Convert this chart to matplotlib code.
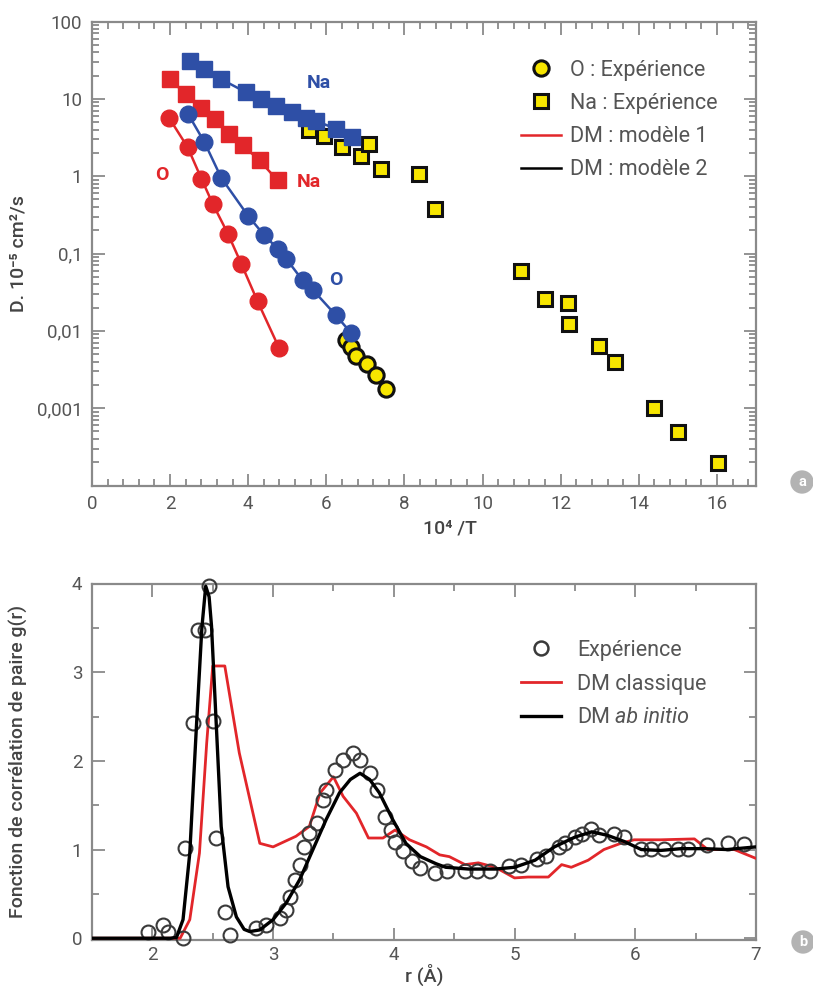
import matplotlib
matplotlib.use("Agg")
import matplotlib.pyplot as plt
from matplotlib.lines import Line2D
from matplotlib.ticker import FixedLocator, MultipleLocator, LogLocator, NullFormatter, FixedFormatter

plt.rcParams['font.family'] = ['Roboto', 'DejaVu Sans']

# ---------------- Panel a data ----------------
blue_sq_x = [2.50, 2.88, 3.31, 3.95, 4.33, 4.71, 5.13, 5.48, 5.73, 6.24, 6.66]
blue_sq_y = [30.8, 24.1, 17.9, 12.1, 9.9, 8.1, 6.7, 5.7, 5.2, 4.1, 3.2]

red_sq_x = [1.99, 2.41, 2.80, 3.14, 3.52, 3.86, 4.29, 4.75]
red_sq_y = [17.9, 11.5, 7.7, 5.5, 3.5, 2.5, 1.6, 0.88]

red_ci_x = [1.97, 2.45, 2.80, 3.09, 3.48, 3.82, 4.24, 4.79]
red_ci_y = [5.7, 2.36, 0.93, 0.44, 0.18, 0.074, 0.024, 0.006]

blue_ci_x = [2.46, 2.88, 3.31, 3.99, 4.41, 4.75, 4.97, 5.39, 5.65, 6.24, 6.63]
blue_ci_y = [6.36, 2.74, 0.95, 0.31, 0.172, 0.116, 0.086, 0.045, 0.034, 0.016, 0.0094]

yel_ci_x = [6.50, 6.63, 6.75, 7.05, 7.26, 7.52]
yel_ci_y = [0.0077, 0.0061, 0.0047, 0.0037, 0.0027, 0.00175]

yel_sq_x = [5.55, 5.94, 6.41, 6.88, 7.09, 7.39, 8.37, 8.78, 10.99, 11.59, 12.18,
            12.21, 12.98, 13.40, 14.39, 15.0, 16.02]
yel_sq_y = [3.9, 3.34, 2.36, 1.85, 2.61, 1.24, 1.07, 0.38, 0.060, 0.0258, 0.0232,
            0.0122, 0.0063, 0.0039, 0.00101, 0.00049, 0.000195]

a_yticks = [1e-3, 1e-2, 1e-1, 1, 10, 100]
a_yticklabels = ['0,001', '0,01', '0,1', '1', '10', '100']
a_xticks = [0, 2, 4, 6, 8, 10, 12, 14, 16]
a_xticklabels = ['0', '2', '4', '6', '8', '10', '12', '14', '16']

# ---------------- Panel b data ----------------
black_r = [1.5, 2.15, 2.2, 2.254, 2.31, 2.365, 2.41, 2.442, 2.47, 2.49, 2.53, 2.57,
           2.627, 2.696, 2.76, 2.807, 2.89, 3.0, 3.11, 3.22, 3.33, 3.44, 3.55, 3.64,
           3.72, 3.80, 3.88, 3.99, 4.10, 4.22, 4.35, 4.43, 4.62, 4.84, 5.0, 5.17,
           5.33, 5.50, 5.64, 5.77, 5.91, 6.05, 6.21, 6.38, 6.57, 6.76, 7.0]
black_g = [0, 0, 0.01, 0.21, 0.96, 2.39, 3.5, 3.97, 3.85, 3.52, 2.39, 1.26,
           0.58, 0.24, 0.10, 0.075, 0.094, 0.21, 0.40, 0.66, 1.0, 1.34, 1.64, 1.79,
           1.86, 1.79, 1.64, 1.34, 1.07, 0.92, 0.84, 0.80, 0.78, 0.78, 0.80, 0.88,
           1.03, 1.14, 1.20, 1.16, 1.09, 1.00, 0.99, 1.01, 1.01, 1.00, 1.03]

red_r = [1.5, 2.23, 2.31, 2.39, 2.45, 2.50, 2.6, 2.72, 2.89, 3.0, 3.19, 3.30, 3.39,
         3.50, 3.58, 3.69, 3.79, 3.91, 4.01, 4.13, 4.27, 4.38, 4.46, 4.59, 4.70,
         4.84, 5.0, 5.11, 5.28, 5.39, 5.47, 5.61, 5.74, 5.88, 5.99, 6.21, 6.49,
         6.60, 6.82, 7.0]
red_g = [0, 0, 0.21, 0.96, 2.2, 3.07, 3.07, 2.09, 1.07, 1.03, 1.15, 1.26, 1.64,
         1.82, 1.60, 1.41, 1.13, 1.13, 1.22, 1.11, 1.03, 0.94, 0.92, 0.83, 0.85,
         0.80, 0.68, 0.69, 0.69, 0.83, 0.80, 0.88, 1.00, 1.07, 1.11, 1.11, 1.12,
         1.00, 1.00, 0.90]

exp_r = [1.96, 2.09, 2.13, 2.25, 2.27, 2.34, 2.38, 2.44, 2.47, 2.50, 2.53, 2.60, 2.64,
         2.86, 2.94, 3.06, 3.11, 3.14, 3.18, 3.22, 3.26, 3.30, 3.36, 3.41, 3.44, 3.51,
         3.58, 3.66, 3.72, 3.80, 3.86, 3.93, 3.98, 4.01, 4.08, 4.15, 4.22, 4.34, 4.44,
         4.59, 4.69, 4.80, 4.95, 5.05, 5.19, 5.26, 5.37, 5.42, 5.50, 5.56, 5.63, 5.70,
         5.82, 5.91, 6.05, 6.13, 6.24, 6.35, 6.44, 6.59, 6.77, 6.90]
exp_g = [0.075, 0.15, 0.075, 0.0, 1.02, 2.43, 3.48, 3.48, 3.97, 2.45, 1.13, 0.30, 0.04,
         0.11, 0.15, 0.23, 0.32, 0.47, 0.66, 0.83, 1.03, 1.19, 1.30, 1.56, 1.67, 1.90,
         2.01, 2.09, 2.01, 1.86, 1.67, 1.37, 1.22, 1.09, 0.98, 0.87, 0.79, 0.73, 0.76,
         0.76, 0.76, 0.76, 0.82, 0.83, 0.89, 0.93, 1.03, 1.07, 1.14, 1.18, 1.23, 1.16,
         1.18, 1.14, 1.01, 1.01, 1.01, 1.01, 1.01, 1.05, 1.07, 1.06]

# ---------------- style ----------------
RED = '#e2262a'
BLUE = '#2e4fa6'
YEL = '#f7e600'
FRAME = '#8a8a8a'
TXT = '#555555'
LAB = '#444444'
TICKFS = 13.5
LEGFS = 15.5
LABFS = 14

W, H = 813, 986
fig = plt.figure(figsize=(W / 100, H / 100), dpi=100)


def ax_rect(x0, y0, x1, y1):
    return [x0 / W, 1 - y1 / H, (x1 - x0) / W, (y1 - y0) / H]


def style_axes(ax):
    for s in ax.spines.values():
        s.set_color(FRAME)
        s.set_linewidth(1.6)
    ax.tick_params(which='both', direction='in', top=True, right=True,
                   color=FRAME, labelcolor=TXT, labelsize=TICKFS, width=1.3)
    ax.tick_params(which='major', length=9, pad=7)
    ax.tick_params(which='minor', length=5)


# ---------------- Panel a ----------------
ax1 = fig.add_axes(ax_rect(92, 21.5, 756, 485.5))
style_axes(ax1)
ax1.set_yscale('log')
ax1.set_xlim(0, 17)
ax1.set_ylim(1e-4, 100)

ax1.plot(yel_sq_x, yel_sq_y, ls='none', marker='s', ms=10.5, mfc=YEL, mec='#111111',
         mew=2.2, zorder=3)
ax1.plot(yel_ci_x, yel_ci_y, ls='none', marker='o', ms=11, mfc=YEL, mec='#111111',
         mew=2.2, zorder=3)
ax1.plot(red_sq_x, red_sq_y, color=RED, lw=1.8, marker='s', ms=11, mfc=RED, mec=RED,
         zorder=4)
ax1.plot(red_ci_x, red_ci_y, color=RED, lw=1.8, marker='o', ms=12, mfc=RED, mec=RED,
         zorder=4)
ax1.plot(blue_sq_x, blue_sq_y, color=BLUE, lw=1.8, marker='s', ms=11, mfc=BLUE, mec=BLUE,
         zorder=5)
ax1.plot(blue_ci_x, blue_ci_y, color=BLUE, lw=1.8, marker='o', ms=12, mfc=BLUE, mec=BLUE,
         zorder=5)

ax1.text(5.8, 16.0, 'Na', color=BLUE, fontsize=14, fontweight='bold', ha='center', va='center')
ax1.text(5.55, 0.84, 'Na', color=RED, fontsize=14, fontweight='bold', ha='center', va='center')
ax1.text(1.8, 1.05, 'O', color=RED, fontsize=14, fontweight='bold', ha='center', va='center')
ax1.text(6.25, 0.046, 'O', color=BLUE, fontsize=14, fontweight='bold', ha='center', va='center')

ax1.xaxis.set_major_locator(FixedLocator(a_xticks))
ax1.xaxis.set_major_formatter(FixedFormatter(a_xticklabels))
ax1.xaxis.set_minor_locator(MultipleLocator(0.4))
ax1.yaxis.set_major_locator(FixedLocator(a_yticks))
ax1.yaxis.set_major_formatter(FixedFormatter(a_yticklabels))
ax1.yaxis.set_minor_locator(LogLocator(base=10, subs=range(2, 10), numticks=20))
ax1.yaxis.set_minor_formatter(NullFormatter())

ax1.set_xlabel('10⁴ /T', color=LAB, fontsize=LABFS, fontweight='medium')
ax1.xaxis.set_label_coords(0.539, -0.074)
ax1.set_ylabel('D. 10⁻⁵ cm²/s', color=LAB, fontsize=LABFS, fontweight='medium')
ax1.yaxis.set_label_coords(-0.097, 0.5)

h1 = [Line2D([], [], ls='none', marker='o', ms=11, mfc=YEL, mec='#111111', mew=2.2),
      Line2D([], [], ls='none', marker='s', ms=10.5, mfc=YEL, mec='#111111', mew=2.2),
      Line2D([], [], color=RED, lw=1.8),
      Line2D([], [], color='black', lw=1.8)]
l1 = ['O : Expérience', 'Na : Expérience', 'DM : modèle 1', 'DM : modèle 2']
leg1 = ax1.legend(h1, l1, loc='upper left', bbox_to_anchor=(0.646, 0.918),
                  frameon=False, fontsize=LEGFS, handlelength=1.85, handletextpad=0.45,
                  labelspacing=0.57, borderaxespad=0, borderpad=0)
for t in leg1.get_texts():
    t.set_color(TXT)

# ---------------- Panel b ----------------
ax2 = fig.add_axes(ax_rect(92, 583.5, 756, 940))
style_axes(ax2)
ax2.set_xlim(1.5, 7)
ax2.set_ylim(-0.02, 4.0)

ax2.plot(red_r, red_g, color=RED, lw=2.0, zorder=3)
ax2.plot(exp_r, exp_g, ls='none', marker='o', ms=10, mfc='none', mec='#3a3a3a',
         mew=1.5, zorder=4, clip_on=False)
ax2.plot(black_r, black_g, color='black', lw=2.4, zorder=5)

ax2.xaxis.set_major_locator(FixedLocator([2, 3, 4, 5, 6, 7]))
ax2.xaxis.set_minor_locator(MultipleLocator(0.5))
ax2.yaxis.set_major_locator(FixedLocator([0, 1, 2, 3, 4]))
ax2.yaxis.set_minor_locator(MultipleLocator(0.5))
ax2.tick_params(axis='x', which='major', pad=4)

ax2.set_xlabel('r (Å)', color=LAB, fontsize=LABFS, fontweight='medium', labelpad=0)
ax2.set_ylabel('Fonction de corrélation de paire g(r)', color=LAB, fontsize=LABFS,
               fontweight='medium')
ax2.yaxis.set_label_coords(-0.097, 0.5)

h2 = [Line2D([], [], ls='none', marker='o', ms=10, mfc='none', mec='#3a3a3a', mew=1.8),
      Line2D([], [], color=RED, lw=2.0),
      Line2D([], [], color='black', lw=2.4)]
leg2 = ax2.legend(h2, ['Expérience', 'DM classique', 'DM ab initio'], loc='upper left',
                  bbox_to_anchor=(0.646, 0.842), frameon=False, fontsize=LEGFS,
                  handlelength=1.85, handletextpad=0.75, labelspacing=0.59,
                  borderaxespad=0, borderpad=0)
for t in leg2.get_texts():
    t.set_color(TXT)
# italic "ab initio": replace last label with composite text
last = leg2.get_texts()[2]
last.set_text('DM')
fig.canvas.draw()
bb = last.get_window_extent()
inv = fig.transFigure.inverted()
x_end, y_mid = inv.transform((bb.x1, (bb.y0 + bb.y1) / 2))
fig.text(x_end + 5 / W, y_mid, 'ab initio', fontsize=LEGFS, style='italic', color=TXT,
         va='center', ha='left')

# badges
fig.text(802 / W, 1 - 482 / H, 'a', color='white', fontsize=10.5, fontweight='bold',
         ha='center', va='center',
         bbox=dict(boxstyle='circle,pad=0.32', fc='#b3b3b3', ec='none'))
fig.text(803 / W, 1 - 942 / H, 'b', color='white', fontsize=10.5, fontweight='bold',
         ha='center', va='center',
         bbox=dict(boxstyle='circle,pad=0.32', fc='#b3b3b3', ec='none'))

fig.savefig('out.png', dpi=100)
